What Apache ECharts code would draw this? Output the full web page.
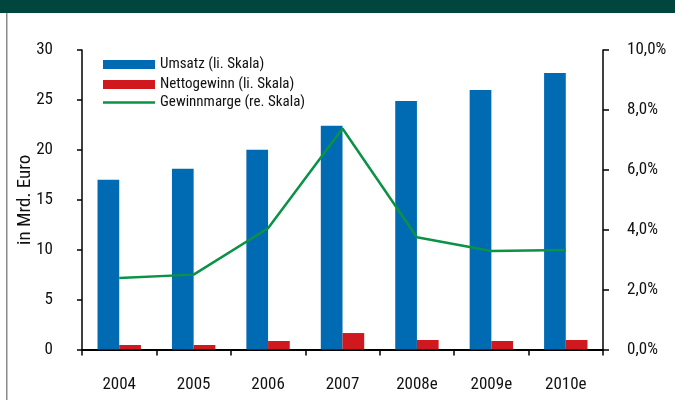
<!DOCTYPE html>
<html><head><meta charset="utf-8">
<script src="https://cdn.jsdelivr.net/npm/echarts@6/dist/echarts.min.js"></script>
<style>html,body{margin:0;padding:0;background:#fff}#c{width:675px;height:400px}</style>
</head><body><div id="c"></div>
<script>
const categories = ['2004','2005','2006','2007','2008e','2009e','2010e'];
const umsatz = [17.0, 18.1, 20.0, 22.4, 24.9, 26.0, 27.7];
const nettogewinn = [0.45, 0.45, 0.85, 1.65, 0.95, 0.85, 0.95];
const gewinnmarge = [2.39, 2.50, 4.05, 7.38, 3.75, 3.29, 3.32];
const leftTicks = {min: 0, max: 30, interval: 5};
const rightTicks = {min: 0, max: 10, interval: 2};

const FONT = '"Liberation Sans Narrow", "Roboto Condensed", "DejaVu Sans Condensed", sans-serif';
const chart = echarts.init(document.getElementById('c'), null, {renderer: 'canvas'});
chart.setOption({
  animation: false,
  textStyle: {fontFamily: FONT},
  graphic: [
    {type: 'rect', left: 0, top: 0, shape: {width: 675, height: 13}, style: {fill: '#00453e'}, silent: true},
    {type: 'rect', left: 6, top: 13, shape: {width: 1.5, height: 387}, style: {fill: '#8a8a8a'}, silent: true}
  ],
  legend: [
    {data: ['Umsatz (li. Skala)', 'Nettogewinn (li. Skala)'], orient: 'vertical', left: 98, top: 52,
      icon: 'rect', itemWidth: 52, itemHeight: 9, itemGap: 5,
      textStyle: {fontFamily: FONT, fontSize: 15, color: '#111'}},
    {data: ['Gewinnmarge (re. Skala)'], orient: 'vertical', left: 98, top: 90,
      icon: 'rect', itemWidth: 52, itemHeight: 2.5,
      textStyle: {fontFamily: FONT, fontSize: 15, color: '#111'}}
  ],
  grid: {left: 82, right: 72, top: 50, bottom: 50.5, containLabel: false},
  xAxis: {type: 'category', data: categories, boundaryGap: true,
    axisLine: {lineStyle: {color: '#000', width: 2}},
    axisTick: {show: true, length: 6, alignWithLabel: false, lineStyle: {color: '#000', width: 1.5}},
    axisLabel: {fontFamily: FONT, fontSize: 17, color: '#111', margin: 27}},
  yAxis: [
    {type: 'value', min: leftTicks.min, max: leftTicks.max, interval: leftTicks.interval,
      name: 'in Mrd. Euro', nameLocation: 'middle', nameGap: 47, nameRotate: 90, nameMoveOverlap: false,
      nameTextStyle: {fontFamily: FONT, fontSize: 19, color: '#111'},
      axisLine: {show: true, lineStyle: {color: '#000', width: 1.5}},
      axisTick: {show: true, length: 5, lineStyle: {color: '#000', width: 1.5}},
      splitLine: {show: false},
      axisLabel: {fontFamily: FONT, fontSize: 17, color: '#111', margin: 29}},
    {type: 'value', min: rightTicks.min, max: rightTicks.max, interval: rightTicks.interval, position: 'right',
      axisLine: {show: true, lineStyle: {color: '#000', width: 1.5}},
      axisTick: {show: true, length: 6, lineStyle: {color: '#000', width: 1.5}},
      splitLine: {show: false},
      axisLabel: {fontFamily: FONT, fontSize: 17, color: '#111', margin: 24,
        formatter: v => v.toFixed(1).replace('.', ',') + '%'}}
  ],
  series: [
    {name: 'Umsatz (li. Skala)', type: 'bar', data: umsatz, barWidth: 21.7, barGap: '0%',
      itemStyle: {color: '#006bb3'}},
    {name: 'Nettogewinn (li. Skala)', type: 'bar', data: nettogewinn, barWidth: 21.7, barGap: '0%',
      itemStyle: {color: '#d0191f'}},
    {name: 'Gewinnmarge (re. Skala)', type: 'line', yAxisIndex: 1, data: gewinnmarge,
      symbol: 'none', lineStyle: {color: '#0a9245', width: 2.5}, itemStyle: {color: '#0a9245'}, z: 5}
  ]
});
</script></body></html>
